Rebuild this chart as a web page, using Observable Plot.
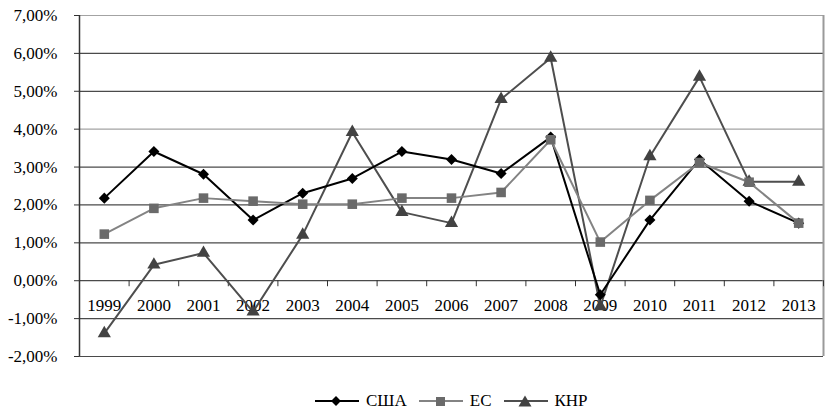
<!DOCTYPE html>
<html>
<head>
<meta charset="utf-8">
<script src="https://cdn.jsdelivr.net/npm/d3@7"></script>
<script src="https://cdn.jsdelivr.net/npm/@observablehq/plot@0.6"></script>
<style>
  html, body { margin: 0; padding: 0; background: #fff; }
  #wrap { position: relative; width: 825px; height: 412px; font-family: "Liberation Serif", "Times New Roman", Times, serif; }
  #legend { position: absolute; left: 315px; top: 391px; display: flex; align-items: center; font-size: 17px; line-height: 20px; color: #000; }
  #legend .item { display: flex; align-items: center; margin-right: 12px; }
  #legend svg { margin-right: 7px; }
  #chart svg text { font-family: "Liberation Serif", "Times New Roman", Times, serif; }
</style>
</head>
<body>
<div id="wrap">
  <div id="chart"></div>
  <div id="legend"></div>
</div>
<script>
const years = [1999, 2000, 2001, 2002, 2003, 2004, 2005, 2006, 2007, 2008, 2009, 2010, 2011, 2012, 2013];
const usa   = [2.18, 3.41, 2.81, 1.60, 2.31, 2.70, 3.41, 3.20, 2.83, 3.79, -0.37, 1.60, 3.20, 2.10, 1.52];
const eu    = [1.23, 1.91, 2.18, 2.10, 2.02, 2.02, 2.18, 2.18, 2.33, 3.72, 1.02, 2.12, 3.12, 2.60, 1.52];
const china = [-1.39, 0.42, 0.73, -0.82, 1.21, 3.92, 1.81, 1.52, 4.79, 5.88, -0.68, 3.28, 5.38, 2.61, 2.61];
const seriesNames = ["США", "ЕС", "КНР"];
const yTicks = [-2, -1, 0, 1, 2, 3, 4, 5, 6, 7];

const styles = {
  "США": { line: "#000000", fill: "#000000", symbol: "square", rotate: 45, r: 4.4 },
  "ЕС":  { line: "#838383", fill: "#6a6a6a", symbol: "square", rotate: 0, r: 5.4 },
  "КНР": { line: "#4e4e4e", fill: "#424242", symbol: "triangle", rotate: 0, r: 4.9 }
};
const values = { "США": usa, "ЕС": eu, "КНР": china };
const rows = name => years.map((year, i) => ({ year, value: values[name][i], series: name }));

const xDomain = [years[0] - 0.5, years[years.length - 1] + 0.5];
const boundaries = years.map(y => y + 0.5);
const fmt = d => d.toFixed(2).replace(".", ",") + "%";

const drawOrder = ["КНР", "США", "ЕС"];
const seriesMarks = drawOrder.flatMap(name => {
  const s = styles[name];
  return [
    Plot.line(rows(name), { x: "year", y: "value", stroke: s.line, strokeWidth: 2 }),
    Plot.dot(rows(name), { x: "year", y: "value", symbol: s.symbol, rotate: s.rotate, r: s.r, fill: s.fill, stroke: "none" })
  ];
});

const chart = Plot.plot({
  width: 825,
  height: 385,
  marginLeft: 79,
  marginRight: 2,
  marginTop: 15,
  marginBottom: 29,
  style: { fontFamily: "'Liberation Serif', 'Times New Roman', serif", fontSize: "17px", background: "#fff", color: "#000" },
  x: { domain: xDomain, axis: null },
  y: { domain: [yTicks[0], yTicks[yTicks.length - 1]], axis: null },
  marks: [
    Plot.ruleY(yTicks, { stroke: d => (d === 4 || d === 7) ? "#a3a3a3" : "#4a4a4a", strokeWidth: 1.2 }),
    Plot.ruleX([xDomain[1]], { stroke: "#9a9a9a", strokeWidth: 2 }),
    Plot.ruleX([xDomain[0]], { stroke: "#333", strokeWidth: 1.5 }),
    Plot.axisY({ ticks: yTicks, tickFormat: fmt, tickSize: 5, tickPadding: 17, label: null, stroke: "#333", fontSize: 17 }),
    Plot.ruleX(boundaries, { y1: 0, y2: 0, insetTop: 0, insetBottom: -6, stroke: "#333" }),
    Plot.text(years, { x: d => d, y: 0, dy: 25, text: d => String(d), fontSize: 17, fill: "#000" }),
    ...seriesMarks
  ]
});
document.getElementById("chart").appendChild(chart);

// legend
const legend = document.getElementById("legend");
const legendMarker = {
  "США": '<rect x="17.5" y="3.5" width="7" height="7" transform="rotate(45 21 7)" fill="#000"/>',
  "ЕС":  '<rect x="17" y="3" width="9" height="9" fill="#6a6a6a"/>',
  "КНР": '<polygon points="21,1.5 27.5,12.5 14.5,12.5" fill="#424242"/>'
};
seriesNames.forEach(name => {
  const item = document.createElement("div");
  item.className = "item";
  item.innerHTML = `<svg width="44" height="14"><line x1="0" y1="7" x2="44" y2="7" stroke="${styles[name].line}" stroke-width="2"/>${legendMarker[name]}</svg><span>${name}</span>`;
  legend.appendChild(item);
});
</script>
</body>
</html>
